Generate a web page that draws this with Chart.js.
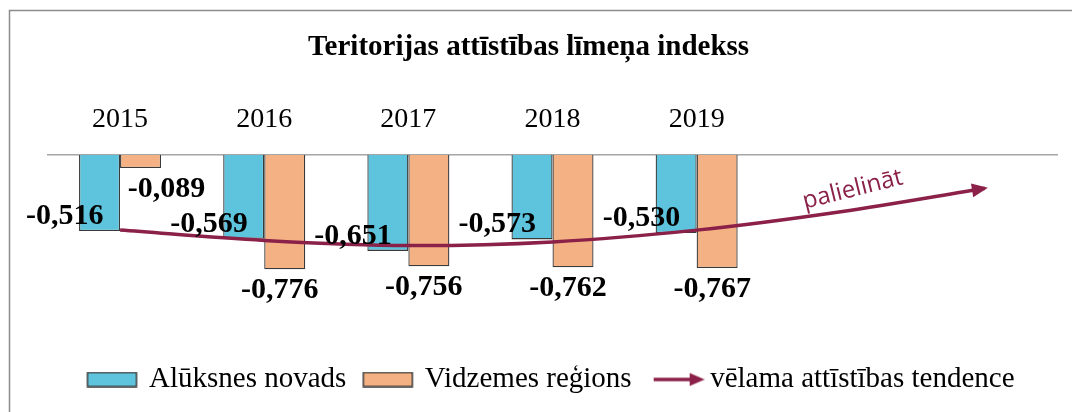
<!DOCTYPE html>
<html>
<head>
<meta charset="utf-8">
<script src="https://cdn.jsdelivr.net/npm/chart.js@4.4.1/dist/chart.umd.min.js"></script>
<style>
  html, body { margin: 0; padding: 0; background: #fff; }
</style>
</head>
<body>
<canvas id="grafiks" width="1072" height="412"></canvas>
<script>
// dati
const gadi = ["2015", "2016", "2017", "2018", "2019", "", ""];
const aluksne = [-0.516, -0.569, -0.651, -0.573, -0.530];
const vidzeme = [-0.089, -0.776, -0.756, -0.762, -0.767];
const tendence = [-0.51, -0.58, -0.615, -0.59, -0.51, -0.385, -0.226];

const zils = "#5EC4DD";
const oranzs = "#F4B183";
const sarkans = "#8B2048";
const serif = "'Liberation Serif', 'Times New Roman', serif";

const fmt = v => v.toFixed(3).replace(".", ",");

// leģendas zīmes
function kaste(krasa) {
  const c = document.createElement("canvas");
  c.width = 62; c.height = 16;
  const x = c.getContext("2d");
  x.fillStyle = krasa;
  x.fillRect(6, 1, 49, 14);
  x.strokeStyle = "#3a3a3a";
  x.lineWidth = 1.5;
  x.strokeRect(6, 1, 49, 14);
  return c;
}
function bulta() {
  const c = document.createElement("canvas");
  c.width = 62; c.height = 16;
  const x = c.getContext("2d");
  x.strokeStyle = sarkans;
  x.fillStyle = sarkans;
  x.lineWidth = 3.5;
  x.beginPath(); x.moveTo(11, 8); x.lineTo(50, 8); x.stroke();
  x.beginPath(); x.moveTo(62, 8); x.lineTo(47, 1.5); x.lineTo(47, 14.5); x.closePath(); x.fill();
  return c;
}
const zimes = [kaste(zils), kaste(oranzs), bulta()];

const ramis = {
  id: "ramis",
  beforeDraw(chart) {
    const ctx = chart.ctx;
    ctx.save();
    ctx.strokeStyle = "#8C8C8C";
    ctx.lineWidth = 1.5;
    ctx.beginPath();
    ctx.moveTo(9.5, 412); ctx.lineTo(9.5, 10.5); ctx.lineTo(1072, 10.5);
    ctx.stroke();
    ctx.restore();
  }
};

const uzraksti = {
  id: "uzraksti",
  afterDatasetsDraw(chart) {
    const ctx = chart.ctx;
    ctx.save();
    ctx.font = "bold 30px " + serif;
    ctx.fillStyle = "#000";
    ctx.textBaseline = "middle";
    ctx.textAlign = "right";
    chart.getDatasetMeta(0).data.forEach((bar, i) => {
      if (aluksne[i] == null) return;
      ctx.fillText(fmt(aluksne[i]), bar.x + 4, bar.y - 15);
    });
    ctx.textAlign = "center";
    chart.getDatasetMeta(1).data.forEach((bar, i) => {
      if (vidzeme[i] == null) return;
      const dx = i === 0 ? 26 : -5;
      ctx.fillText(fmt(vidzeme[i]), bar.x + dx, bar.y + 21);
    });

    // bultas gals
    const pts = chart.getDatasetMeta(2).data;
    const p = pts[pts.length - 1];
    const q = pts[pts.length - 2];
    let ax = p.x - (p.cp1x ?? q.x), ay = p.y - (p.cp1y ?? q.y);
    const len = Math.hypot(ax, ay) || 1;
    ax /= len; ay /= len;
    const tx = p.x + ax * 3, ty = p.y + ay * 3;
    const bx = tx - ax * 16, by = ty - ay * 16;
    ctx.fillStyle = sarkans;
    ctx.beginPath();
    ctx.moveTo(tx, ty);
    ctx.lineTo(bx - ay * 7, by + ax * 7);
    ctx.lineTo(bx + ay * 7, by - ax * 7);
    ctx.closePath();
    ctx.fill();

    // "palielināt"
    const r = pts[5];
    ctx.translate(r.x + 12, r.y - 22);
    ctx.rotate(-14 * Math.PI / 180);
    ctx.font = "24px 'Open Sans', sans-serif";
    ctx.fillStyle = sarkans;
    ctx.textAlign = "center";
    ctx.fillText("palielināt", 0, 0);
    ctx.restore();
  }
};

new Chart(document.getElementById("grafiks"), {
  data: {
    labels: gadi,
    datasets: [
      {
        type: "bar",
        label: "Alūksnes novads",
        data: aluksne,
        backgroundColor: zils,
        borderColor: "#3a3a3a",
        borderWidth: 1.3,
        categoryPercentage: 0.569,
        barPercentage: 1.0,
        order: 1
      },
      {
        type: "bar",
        label: "Vidzemes reģions",
        data: vidzeme,
        backgroundColor: oranzs,
        borderColor: "#3a3a3a",
        borderWidth: 1.3,
        categoryPercentage: 0.569,
        barPercentage: 1.0,
        order: 1
      },
      {
        type: "line",
        label: "vēlama attīstības tendence",
        data: tendence,
        borderColor: sarkans,
        backgroundColor: sarkans,
        borderWidth: 3.5,
        pointRadius: 0,
        tension: 0.35,
        fill: false,
        order: -1
      }
    ]
  },
  options: {
    responsive: false,
    animation: false,
    devicePixelRatio: 1,
    layout: { padding: { top: 10, left: 0, right: 15, bottom: 8 } },
    plugins: {
      title: {
        display: true,
        text: "Teritorijas attīstības līmeņa indekss",
        color: "#000",
        font: { family: serif, size: 29, weight: "bold" },
        padding: { top: 20.6, bottom: 26 }
      },
      legend: {
        position: "bottom",
        fullSize: false,
        labels: {
          usePointStyle: true,
          pointStyleWidth: 44,
          padding: 20,
          color: "#000",
          font: { family: serif, size: 29 },
          generateLabels(chart) {
            const items = Chart.defaults.plugins.legend.labels.generateLabels(chart);
            items.forEach(it => { it.pointStyle = zimes[it.datasetIndex]; });
            return items.sort((a, b) => a.datasetIndex - b.datasetIndex);
          }
        }
      },
      tooltip: { enabled: false }
    },
    scales: {
      x: {
        position: "top",
        grid: { display: false },
        border: { display: true, color: "#A6A6A6", width: 1.5 },
        ticks: { color: "#000", padding: 11, font: { family: serif, size: 28 } }
      },
      y: {
        min: -1.29,
        max: 0,
        ticks: { display: false },
        grid: { display: false },
        border: { display: false },
        afterFit(s) { s.width = 48; }
      }
    }
  },
  plugins: [ramis, uzraksti]
});
</script>
</body>
</html>
